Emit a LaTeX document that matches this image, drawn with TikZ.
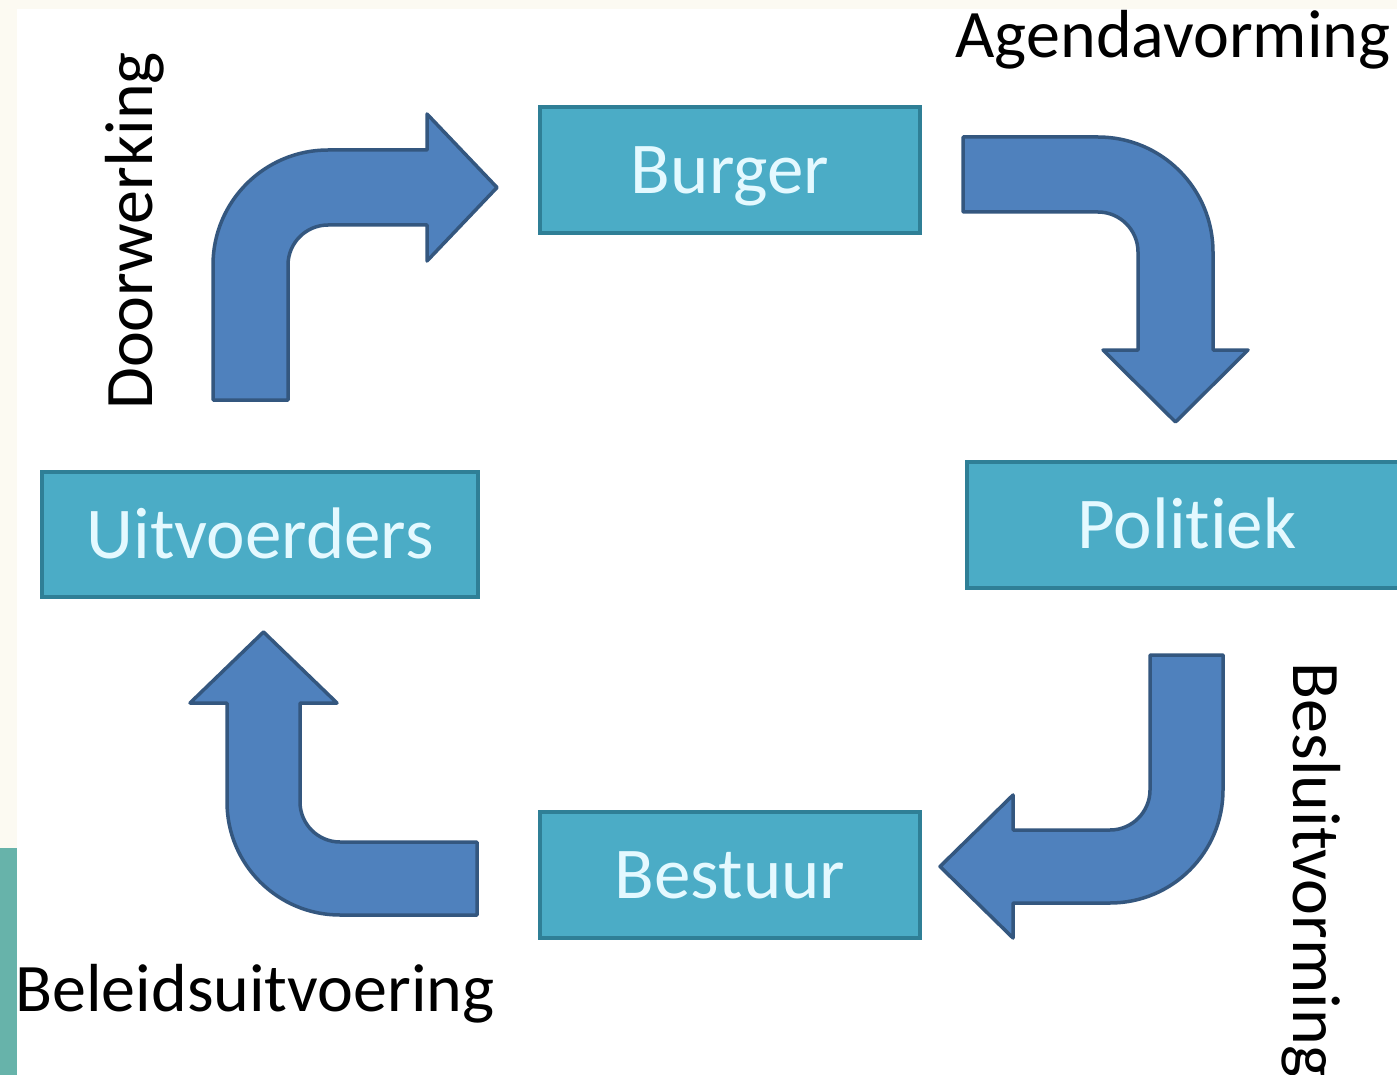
\documentclass[tikz,border=0pt]{standalone}
\usepackage{fontspec}
\setmainfont{Carlito}[Ligatures={NoCommon,NoRequired,NoContextual}]
\definecolor{cream}{HTML}{FCFAF2}
\definecolor{sidebar}{HTML}{67B3AA}
\definecolor{boxfill}{HTML}{4BACC6}
\definecolor{boxline}{HTML}{2F7F96}
\definecolor{boxtext}{HTML}{E4F9FF}
\definecolor{arrfill}{HTML}{4F81BD}
\definecolor{arrline}{HTML}{34577F}
\tikzset{
  stage/.style={draw=boxline, line width=3.5pt, fill=boxfill, rectangle,
    inner sep=0pt, text=boxtext, font=\fontsize{73}{80}\selectfont,
    text height=47pt, text depth=0pt, align=center},
  phase/.style={inner sep=0pt, anchor=base, font=\fontsize{68}{75}\selectfont, text=black},
  blockarrow/.style={fill=arrfill, draw=arrline, line width=3.5pt, line join=round}
}
\begin{document}
\begin{tikzpicture}[x=1pt,y=-1pt]
\useasboundingbox (0,0) rectangle (1397,1075);
\fill[cream] (0,0) rectangle (1397,1075);
\fill[white] (17,9) rectangle (1397,1075);
\fill[sidebar] (0,848) rectangle (17,1075);

\begin{scope}
\clip (0,0) rectangle (1397,1075);
% stages
\node[stage, minimum width=380pt, minimum height=126pt] (burger) at (730,170) {Burger};
\node[stage, minimum width=440pt, minimum height=126pt] (politiek) at (1187,525) {Politiek};
\node[stage, minimum width=436pt, minimum height=125pt] (uitvoerders) at (260,534.5) {Uitvoerders};
\node[stage, minimum width=380pt, minimum height=126pt] (bestuur) at (730,875) {Bestuur};

% block arrows
% Doorwerking: Uitvoerders -> Burger
\draw[blockarrow] (213,400) -- (213,265)
  .. controls (213,201.5) and (264.5,150) .. (328,150)
  -- (427,150) -- (427,114) -- (497,187.5) -- (427,261) -- (427,225) -- (328,225)
  .. controls (306,225) and (288,243) .. (288,265) -- (288,400) -- cycle;
% Agendavorming: Burger -> Politiek
\draw[blockarrow] (963,137) -- (1098,137)
  .. controls (1161.5,137) and (1213,188.5) .. (1213,252)
  -- (1213,350) -- (1248,350) -- (1175.5,422) -- (1103,350) -- (1138,350) -- (1138,252)
  .. controls (1138,230) and (1120,212) .. (1098,212) -- (963,212) -- cycle;
% Besluitvorming: Politiek -> Bestuur
\draw[blockarrow] (1150,655) -- (1223,655) -- (1223,790)
  .. controls (1223,852.4) and (1172.4,903) .. (1110,903)
  -- (1013,903) -- (1013,938) -- (940,866.5) -- (1013,795) -- (1013,830) -- (1110,830)
  .. controls (1132,830) and (1150,812) .. (1150,790) -- cycle;
% Beleidsuitvoering: Bestuur -> Uitvoerders
\draw[blockarrow] (477,842) -- (477,915) -- (340,915)
  .. controls (277.6,915) and (227,864.4) .. (227,802)
  -- (227,703) -- (190,703) -- (263.5,632) -- (337,703) -- (300,703) -- (300,802)
  .. controls (300,824) and (318,842) .. (340,842) -- cycle;

% phase labels
\node[phase] (agenda) at (1173,58) {Agendavorming};
\node[phase, rotate=90] (doorwerking) at (152,231) {Doorwerking};
\node[phase, rotate=-90] (besluit) at (1293,870) {Besluitvorming};
\node[phase] (beleid) at (255,1011) {Beleidsuitvoering};
\end{scope}
\end{tikzpicture}
\end{document}
